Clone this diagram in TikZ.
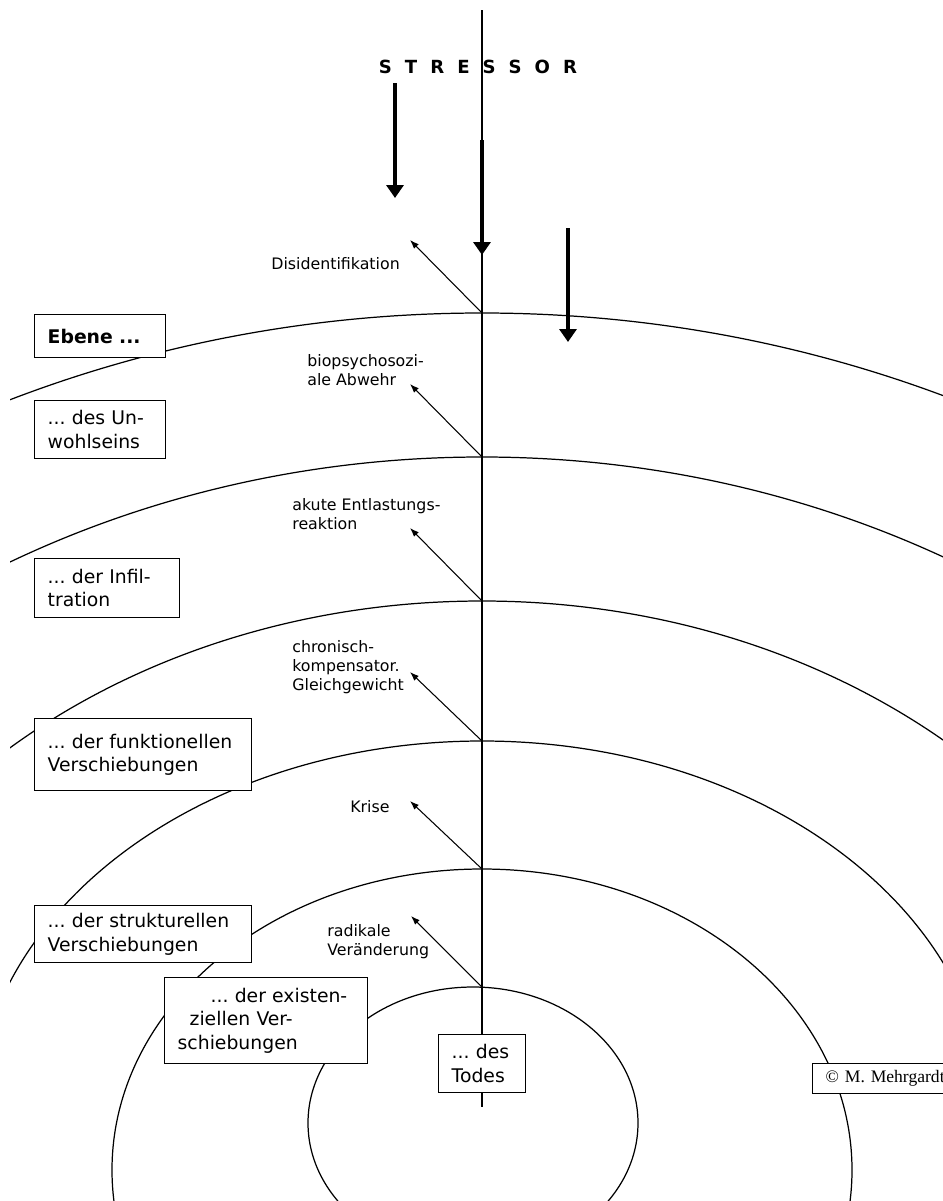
\documentclass[tikz,border=0pt]{standalone}
\usepackage{fontspec}
\setmainfont{DejaVu Sans}
\newfontfamily\copyfont{Liberation Serif}
\usetikzlibrary{arrows.meta}
\frenchspacing

\tikzset{
  niveau/.style={line width=0.7pt},
  ebene/.style={draw, fill=white, line width=0.8pt, anchor=north west, align=left,
    inner xsep=0.26cm, inner ysep=0pt, font=\fontsize{10.7}{13.4}\selectfont},
  reaktion/.style={anchor=west, align=left, inner sep=0pt, font=\fontsize{9}{10.8}\selectfont},
  stressor/.style={font=\fontsize{10.3}{12}\selectfont\bfseries,
    execute at begin node={\spaceskip=7.4pt\relax}},
  stresspfeil/.style={line width=2.2pt, -{Triangle[length=2.6mm,width=3.4mm]}},
  abwehrpfeil/.style={line width=0.6pt, -{Latex[length=1.8mm,width=1.3mm]}}
}

\begin{document}
\begin{tikzpicture}[x=0.02cm, y=-0.02cm]
  \useasboundingbox (0,0) rectangle (943,1201);

  % Ebenen
  \begin{scope}
    \clip (10,0) rectangle (960,1201);
    \draw[niveau] (482,1513) ellipse [x radius=1262, y radius=1200];
    \draw[niveau] (482,1357) ellipse [x radius=1006, y radius=900];
    \draw[niveau] (482,1189) ellipse [x radius=714, y radius=588];
    \draw[niveau] (482,1121) ellipse [x radius=507, y radius=380];
    \draw[niveau] (482,1170) ellipse [x radius=370, y radius=301];
    \draw[niveau] (473,1123) ellipse [x radius=165, y radius=136];
  \end{scope}

  % Achse
  \coordinate (oben) at (482,10);
  \coordinate (unten) at (482,1107);
  \draw[line width=0.6pt] (oben) -- (unten);

  % Reaktionspfeile
  \coordinate (k1) at (482,313);
  \coordinate (k2) at (482,457);
  \coordinate (k3) at (482,601);
  \coordinate (k4) at (482,741);
  \coordinate (k5) at (482,869);
  \coordinate (k6) at (482,987);
  \coordinate (t1) at (410,240);
  \coordinate (t2) at (410,384);
  \coordinate (t3) at (410,528);
  \coordinate (t4) at (410,672);
  \coordinate (t5) at (410,801);
  \coordinate (t6) at (411,916);
  \foreach \i in {1,...,6}
    \draw[abwehrpfeil] (k\i) -- (t\i);

  % Stressor
  \node[stressor] (stressor) at (478,67) {S T R E S S O R};
  \coordinate (s1) at (395,83);
  \coordinate (e1) at (395,198);
  \coordinate (s2) at (482,140);
  \coordinate (e2) at (482,255);
  \coordinate (s3) at (568,228);
  \coordinate (e3) at (568,342);
  \draw[stresspfeil] (s1) -- (e1);
  \draw[stresspfeil] (s2) -- (e2);
  \draw[stresspfeil] (s3) -- (e3);

  % Reaktionen
  \node[reaktion] (disid) at (271,264) {Disidentifikation};
  \node[reaktion] (biopsy) at (307,370) {biopsychosozi-\\ale Abwehr};
  \node[reaktion] (entlast) at (292,514) {akute Entlastungs-\\reaktion};
  \node[reaktion] (chron) at (292,667) {chronisch-\\kompensator.\\Gleichgewicht};
  \node[reaktion] (krise) at (350,807) {Krise};
  \node[reaktion] (radikal) at (327,942) {radikale\\Veränderung};

  % Ebenen-Kaesten
  \node[ebene, minimum width=2.62cm, minimum height=0.86cm, text width=2.1cm] (ebene) at (34,314) {\textbf{Ebene ...}};
  \node[ebene, minimum width=2.62cm, minimum height=1.16cm, text width=2.1cm] (unwohl) at (34,400) {... des Un-\\wohlseins};
  \node[ebene, minimum width=2.9cm, minimum height=1.18cm, text width=2.38cm] (infil) at (34,558) {... der Infil-\\tration};
  \node[ebene, minimum width=4.34cm, minimum height=1.44cm, text width=3.82cm] (funkt) at (34,718) {... der funktionellen\\Verschiebungen};
  \node[ebene, minimum width=4.34cm, minimum height=1.14cm, text width=3.82cm] (strukt) at (34,905) {... der strukturellen\\Verschiebungen};
  \node[ebene, minimum width=4.06cm, minimum height=1.72cm, text width=3.54cm] (exist) at (164,977) {\hspace*{18.7pt}... der existen-\\\hspace*{6.8pt}ziellen Ver-\\schiebungen};
  \node[ebene, minimum width=1.74cm, minimum height=1.16cm, text width=1.22cm] (tod) at (438,1034) {... des\\Todes};
  \node[ebene, minimum width=3.1cm, minimum height=0.6cm, text width=2.58cm, font=\copyfont\fontsize{10}{12}\selectfont] (copy) at (812,1063) {© M. Mehrgardt};
\end{tikzpicture}
\end{document}
